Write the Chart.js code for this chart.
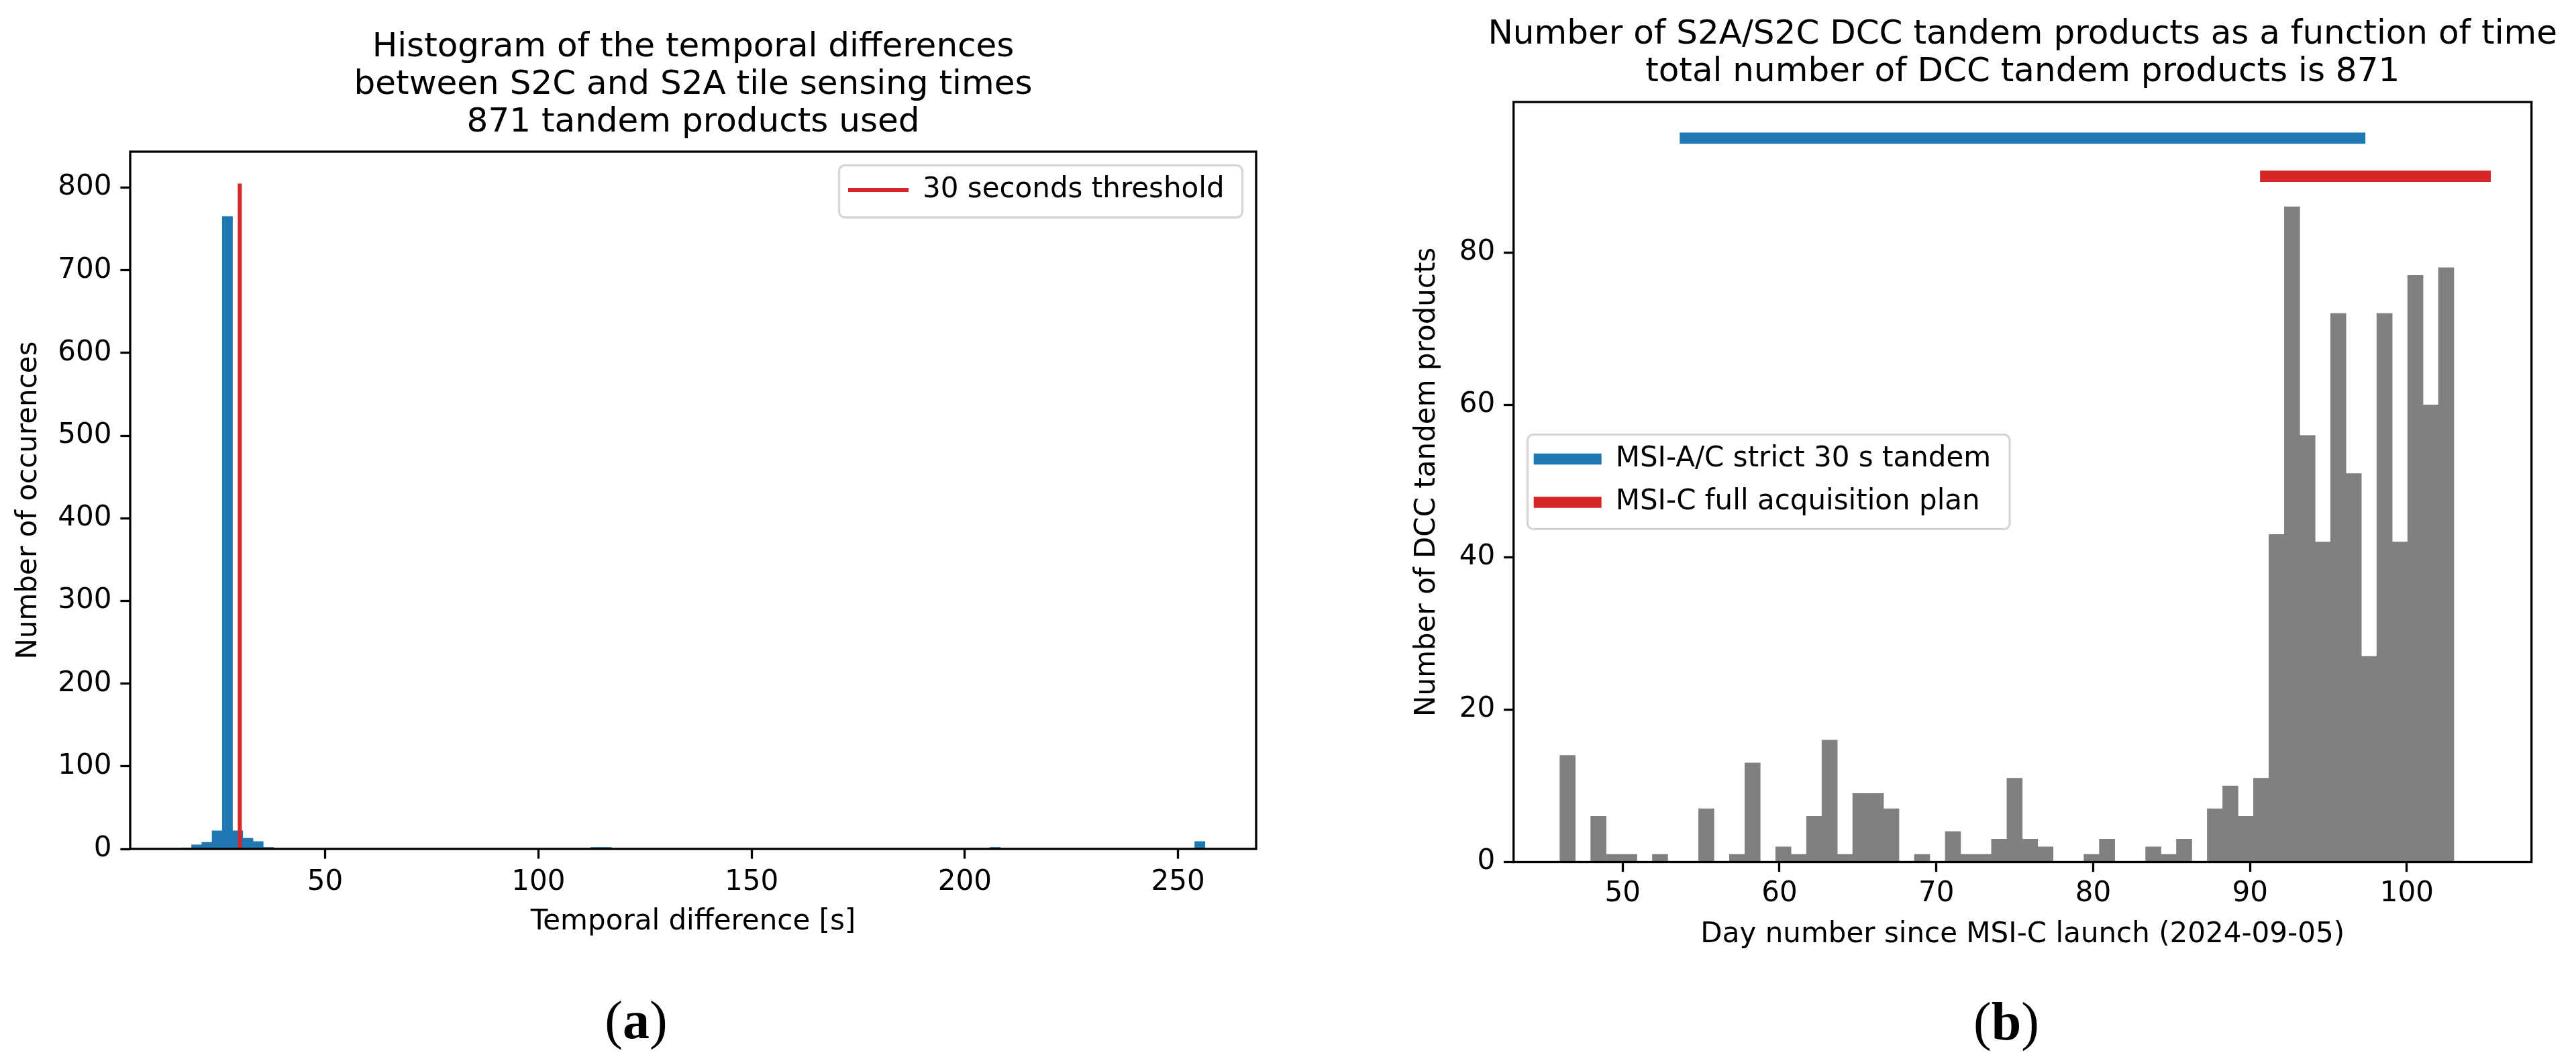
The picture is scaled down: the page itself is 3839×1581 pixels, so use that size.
<!DOCTYPE html>
<html>
<head>
<meta charset="utf-8">
<script src="https://cdn.jsdelivr.net/npm/chart.js@4.4.1/dist/chart.umd.min.js"></script>
<style>
html, body { margin: 0; padding: 0; background: #fff; }
body { width: 3839px; height: 1581px; position: relative; overflow: hidden; }
canvas { position: absolute; top: 0; }
#chartA { left: 0; }
#chartB { left: 1920px; }
.panel { position: absolute; font-family: 'Liberation Serif', 'DejaVu Serif', serif; font-size: 80px; line-height: 1;
         transform: translate(-50%, -50%); white-space: nowrap; color: #000; }
</style>
</head>
<body>
<canvas id="chartA" width="1920" height="1581"></canvas>
<canvas id="chartB" width="1919" height="1581"></canvas>
<div class="panel" style="left:948px; top:1520px;">(<b>a</b>)</div>
<div class="panel" style="left:2990px; top:1522px;">(<b>b</b>)</div>
<script>
// ---------------- data: panel (a) ----------------
const diffBinStart = 16.3;          // left edge of the first histogram bin [s]
const diffBinWidth = 2.4;           // bin width [s] (100 bins)
const diffBinIndex = [0, 1, 2, 3, 4, 5, 6, 7, 8, 40, 41, 79, 99];
const diffCounts   = [1, 5, 8, 22, 765, 22, 13, 9, 2, 2, 2, 2, 9];
const thresholdX   = [30, 30];
const thresholdY   = [0, 805];
const diffXTicks   = [50, 100, 150, 200, 250];
const occYTicks    = [0, 100, 200, 300, 400, 500, 600, 700, 800];

// ---------------- data: panel (b) ----------------
const dayBinRange = [46, 103];      // histogram range (58 bins)
const dayCounts = [14, 0, 6, 1, 1, 0, 1, 0, 0, 7,
                   0, 1, 13, 0, 2, 1, 6, 16, 1, 9,
                   9, 7, 0, 1, 0, 4, 1, 1, 3, 11,
                   3, 2, 0, 0, 1, 3, 0, 0, 2, 1,
                   3, 0, 7, 10, 6, 11, 43, 86, 56, 42,
                   72, 51, 27, 72, 42, 77, 60, 78];
const strictTandemX = [54, 97];
const strictTandemY = [95, 95];
const fullPlanX     = [91, 105];
const fullPlanY     = [90, 90];
const dayXTicks  = [50, 60, 70, 80, 90, 100];
const prodYTicks = [0, 20, 40, 60, 80];

// ---------------- helpers ----------------
Chart.defaults.font.family = "'DejaVu Sans', sans-serif";
Chart.defaults.color = '#000';

const mplStyle = {
  id: 'mplStyle',
  afterLayout(chart, args, o) {
    const ca = chart.chartArea;
    const t = chart.titleBlock;
    if (t) {
      const c = (ca.left + ca.right) / 2;
      t.left = c - 1200; t.right = c + 1200; t.width = 2400;
    }
    const lg = chart.legend;
    if (lg && o.legendAt) {
      const p = lg.options.labels.padding;
      const w = lg.width, h = lg.height;
      lg.left = o.legendAt[0] - p;
      lg.top = o.legendAt[1] - p;
      lg.right = lg.left + w;
      lg.bottom = lg.top + h;
    }
  },
  beforeDraw(chart, args, o) {
    if (!o.frame) return;
    const ctx = chart.ctx;
    const [x, y, w, h] = o.frame;
    ctx.save();
    ctx.beginPath();
    ctx.roundRect(x, y, w, h, 8.4);
    ctx.fillStyle = 'rgba(255,255,255,0.8)';
    ctx.fill();
    ctx.lineWidth = 3.3;
    ctx.strokeStyle = 'rgba(204,204,204,0.8)';
    ctx.stroke();
    ctx.restore();
  },
  afterDatasetsDraw(chart) {
    const { ctx, chartArea: ca } = chart;
    ctx.save();
    ctx.lineWidth = 3.3;
    ctx.strokeStyle = '#000';
    ctx.lineJoin = 'miter';
    ctx.strokeRect(ca.left, ca.top, ca.right - ca.left, ca.bottom - ca.top);
    ctx.restore();
  }
};

function lineLegendLabels(chart) {
  return chart.data.datasets
    .map((ds, i) => ({ ds, i }))
    .filter(o => o.ds.type === 'line' && o.ds.label)
    .map(({ ds, i }) => ({
      text: ds.label, fillStyle: ds.borderColor, strokeStyle: ds.borderColor,
      lineWidth: ds.borderWidth, lineCap: 'butt', pointStyle: 'line',
      hidden: false, datasetIndex: i, fontColor: '#000'
    }));
}

function tickGrid() {
  return { display: true, offset: false, drawOnChartArea: false, drawTicks: true,
           tickLength: 14.6, tickWidth: 3.3, tickColor: '#000' };
}

function xAxis(min, max, ticks, height, tickPad, title, titleBottom) {
  return {
    type: 'linear', min, max, offset: false,
    grid: tickGrid(), border: { display: false },
    ticks: { font: { size: 42 }, padding: tickPad, color: '#000', maxRotation: 0, minRotation: 0,
             autoSkip: false, callback: v => String(v) },
    afterBuildTicks: s => { s.ticks = ticks.map(v => ({ value: v })); },
    afterFit: s => { s.height = height; s.paddingLeft = 0; s.paddingRight = 0; },
    title: { display: true, text: title, font: { size: 42 }, color: '#000', padding: { top: 0, bottom: titleBottom } }
  };
}

function yAxis(min, max, ticks, width, title, titleTop) {
  return {
    type: 'linear', min, max,
    grid: tickGrid(), border: { display: false },
    ticks: { font: { size: 42 }, padding: 13, color: '#000', autoSkip: false, callback: v => String(v) },
    afterBuildTicks: s => { s.ticks = ticks.map(v => ({ value: v })); },
    afterFit: s => { s.width = width; s.paddingTop = 0; s.paddingBottom = 0; },
    title: { display: true, text: title, font: { size: 42 }, color: '#000', padding: { top: titleTop, bottom: 0 } }
  };
}

// ---------------- chart (a) ----------------
new Chart(document.getElementById('chartA'), {
  type: 'bar',
  data: {
    datasets: [
      { type: 'line', label: '30 seconds threshold',
        data: thresholdX.map((x, i) => ({ x, y: thresholdY[i] })),
        borderColor: '#d62728', backgroundColor: '#d62728', borderWidth: 6,
        pointRadius: 0, borderCapStyle: 'butt', tension: 0, order: 1 },
      { type: 'bar', label: 'histogram',
        data: diffBinIndex.map((b, i) => ({ x: diffBinStart + (b + 0.5) * diffBinWidth, y: diffCounts[i] })),
        backgroundColor: '#1f77b4', borderWidth: 0, barPercentage: 1, categoryPercentage: 1, order: 2 }
    ]
  },
  options: {
    responsive: false, animation: false, events: [],
    layout: { padding: { left: 0, right: 48, top: 0, bottom: 0 } },
    scales: {
      x: xAxis(4.3, 268.3, diffXTicks, 316, 10, 'Temporal difference [s]', 181.8),
      y: yAxis(0, 843.5, occYTicks, 194, 'Number of occurences', 17.4)
    },
    plugins: {
      title: { display: true, text: ['Histogram of the temporal differences',
                                     'between S2C and S2A tile sensing times',
                                     '871 tandem products used'],
               font: { size: 50, weight: 'normal', lineHeight: 1.12 }, color: '#000',
               padding: { top: 43, bottom: 15 } },
      legend: { display: true, position: 'chartArea', align: 'start',
                labels: { font: { size: 42 }, padding: 22, usePointStyle: true, pointStyleWidth: 90,
                          color: '#000', generateLabels: lineLegendLabels } },
      tooltip: { enabled: false },
      mplStyle: { legendAt: [1264, 262], frame: [1250.5, 246.4, 601, 77.6] }
    }
  },
  plugins: [mplStyle]
});

// ---------------- chart (b) ----------------
const dayBinWidth = (dayBinRange[1] - dayBinRange[0]) / dayCounts.length;
new Chart(document.getElementById('chartB'), {
  type: 'bar',
  data: {
    datasets: [
      { type: 'line', label: 'MSI-A/C strict 30 s tandem',
        data: strictTandemX.map((x, i) => ({ x, y: strictTandemY[i] })),
        borderColor: '#1f77b4', backgroundColor: '#1f77b4', borderWidth: 16.7,
        pointRadius: 0, borderCapStyle: 'square', tension: 0, order: 1 },
      { type: 'line', label: 'MSI-C full acquisition plan',
        data: fullPlanX.map((x, i) => ({ x, y: fullPlanY[i] })),
        borderColor: '#d62728', backgroundColor: '#d62728', borderWidth: 16.7,
        pointRadius: 0, borderCapStyle: 'square', tension: 0, order: 1 },
      { type: 'bar', label: 'products per day',
        data: dayCounts.map((c, i) => ({ x: dayBinRange[0] + (i + 0.5) * dayBinWidth, y: c })),
        backgroundColor: '#808080', borderWidth: 0, barPercentage: 1, categoryPercentage: 1, order: 2 }
    ]
  },
  options: {
    responsive: false, animation: false, events: [],
    layout: { padding: { left: 0, right: 66.3, top: 0, bottom: 0 } },
    scales: {
      x: xAxis(43.05, 107.95, dayXTicks, 296.5, 8.2, 'Day number since MSI-C launch (2024-09-05)', 162.8),
      y: yAxis(0, 99.75, prodYTicks, 335.7, 'Number of DCC tandem products', 182)
    },
    plugins: {
      title: { display: true, text: ['Number of S2A/S2C DCC tandem products as a function of time',
                                     'total number of DCC tandem products is 871'],
               font: { size: 50, weight: 'normal', lineHeight: 1.12 }, color: '#000',
               padding: { top: 24, bottom: 16 } },
      legend: { display: true, position: 'chartArea', align: 'start',
                labels: { font: { size: 42 }, padding: 22.5, usePointStyle: true, pointStyleWidth: 101,
                          color: '#000', generateLabels: lineLegendLabels } },
      tooltip: { enabled: false },
      mplStyle: { legendAt: [365.7, 663], frame: [356.5, 647.7, 718.5, 140.6] }
    }
  },
  plugins: [mplStyle]
});
</script>
</body>
</html>
